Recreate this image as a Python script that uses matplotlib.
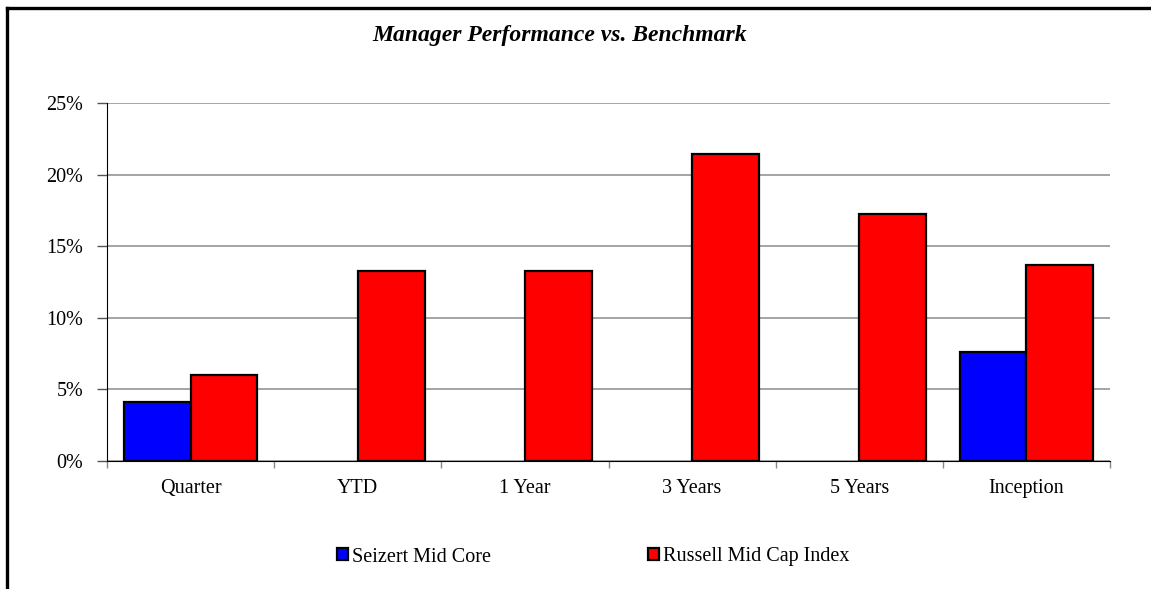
import numpy as np
import matplotlib
matplotlib.use("Agg")
from matplotlib import pyplot as plt
from matplotlib.lines import Line2D
from matplotlib.patches import Patch
from matplotlib.ticker import FuncFormatter

categories = ["Quarter", "YTD", "1 Year", "3 Years", "5 Years", "Inception"]
seizert = [4.14, np.nan, np.nan, np.nan, np.nan, 7.59]
russell = [5.98, 13.27, 13.27, 21.44, 17.23, 13.69]
series_names = ["Seizert Mid Core", "Russell Mid Cap Index"]
title = "Manager Performance vs. Benchmark"

plt.rcParams['font.family'] = ['Liberation Serif', 'DejaVu Serif']

fig = plt.figure(figsize=(11.51, 5.89), dpi=100)
ax = fig.add_axes([107/1151, 1 - 461/589, 1003/1151, 358/589])

x = np.arange(len(categories)) + 0.5
w = 0.4
ax.bar(x - w/2, seizert, w, color="#0000ff", edgecolor="black", linewidth=1.6, zorder=3)
ax.bar(x + w/2, russell, w, color="#ff0000", edgecolor="black", linewidth=1.6, zorder=3)

ax.set_xlim(0, 6)
ax.set_ylim(0, 25)
ax.set_yticks(np.arange(0, 26, 5))
ax.yaxis.set_major_formatter(FuncFormatter(lambda v, p: f"{v:.0f}%"))
ax.grid(axis="y", color="#8c8c8c", linewidth=1.1, zorder=0)

ax.set_xticks(np.arange(0, 7))
ax.set_xticklabels([])
ax.set_xticks(x, minor=True)
ax.set_xticklabels(categories, minor=True)
ax.tick_params(axis="x", which="minor", length=0, pad=13, labelsize=14.5)
ax.tick_params(axis="x", which="major", length=5, width=1, color="#888888")
ax.tick_params(axis="y", length=7, width=1, pad=10, labelsize=14.5, color="#555555")

for s in ["top", "right"]:
    ax.spines[s].set_visible(False)
ax.spines["left"].set_color("black")
ax.spines["bottom"].set_color("black")
ax.spines["left"].set_zorder(4)
ax.spines["bottom"].set_zorder(4)

fig.text(560/1151, 1 - 36/589, title, ha="center", va="center",
         fontsize=17, fontweight="bold", fontstyle="italic")

handles = [Patch(facecolor="#0000ff", edgecolor="black", linewidth=1.6),
           Patch(facecolor="#ff0000", edgecolor="black", linewidth=1.6)]
fig.legend(handles, series_names, loc="center", bbox_to_anchor=(593/1151, 1 - 557/589),
           ncol=2, frameon=False, fontsize=14.5, handlelength=0.55, handleheight=0.55,
           handletextpad=0.2, columnspacing=7.8)

# outer frame (left and top edges)
fig.add_artist(Line2D([7.5/1151, 7.5/1151], [0, 1 - 7.5/589], color="black", linewidth=2.4,
                      transform=fig.transFigure, solid_capstyle="projecting"))
fig.add_artist(Line2D([7.5/1151, 1], [1 - 7.5/589, 1 - 7.5/589], color="black", linewidth=2.4,
                      transform=fig.transFigure, solid_capstyle="projecting"))

fig.savefig("out.png", dpi=100)
